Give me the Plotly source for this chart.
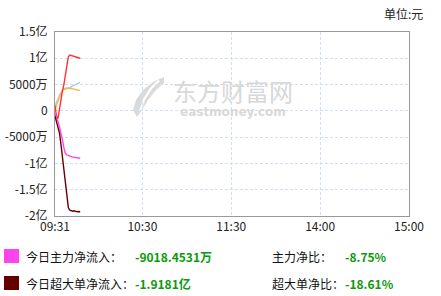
import plotly.graph_objects as go

# minutes since 09:31
minutes = list(range(18))
# values in 万元
xiaodan = [1000, 1700, 2300, 2900, 3400, 3900, 4200, 4300, 4350, 4400, 4400, 4600, 4800, 4900, 5000, 5100, 5300, 5400]
zhongdan = [200, 900, 1800, 2700, 3300, 3800, 4100, 4200, 4300, 4300, 4300, 4300, 4200, 4100, 4000, 4000, 3900, 3900]
dadan = [1000, -1000, -1500, 500, 2500, 3800, 5000, 6800, 8800, 10300, 10600, 10500, 10400, 10300, 10200, 10100, 10000, 10000]
zhuli = [-500, -1200, -2000, -3000, -4000, -5500, -7000, -8100, -8400, -8550, -8650, -8700, -8800, -8850, -8900, -8950, -9000, -9018]
chaoda = [-1000, -2000, -3200, -4200, -6300, -8700, -11100, -13600, -16000, -18400, -18900, -19000, -19100, -19000, -19100, -19200, -19150, -19181]

y_ticks = [15000, 10000, 5000, 0, -5000, -10000, -15000, -20000]
y_labels = ["1.5亿", "1亿", "5000万", "0", "-5000万", "-1亿", "-1.5亿", "-2亿"]
x_ticks = [0, 59, 119, 179, 239]
x_labels = ["09:31", "10:30", "11:30", "14:00", "15:00"]

font = "Noto Sans CJK SC"
W, H = 441, 296
L, R, T, B = 55, 409, 32, 216

def px(x):
    return (x - L) / (R - L)

def py(y):
    return (B - y) / (B - T)

fig = go.Figure()
for name, vals, color in [
    ("小单", xiaodan, "#a8ccf0"),
    ("中单", zhongdan, "#ffb545"),
    ("大单", dadan, "#ff3333"),
    ("主力", zhuli, "#ff44ee"),
    ("超大单", chaoda, "#660000"),
]:
    fig.add_trace(go.Scatter(x=minutes, y=vals, mode="lines", name=name,
                             line=dict(color=color, width=1.4), hoverinfo="skip"))

fig.update_layout(
    width=W, height=H,
    margin=dict(l=L, r=W - R, t=T, b=H - B),
    paper_bgcolor="white", plot_bgcolor="white",
    showlegend=False,
    font=dict(family=font, size=12, color="#222"),
    xaxis=dict(range=[0, 239], tickvals=x_ticks, ticktext=x_labels, automargin=False,
               showgrid=True, gridcolor="#cfe0ee", griddash="3px,2px", gridwidth=1,
               showline=True, linecolor="#999", linewidth=1, mirror=True,
               zeroline=False, ticks="", tickfont=dict(size=12, color="#222")),
    yaxis=dict(range=[-20000, 15000], tickvals=y_ticks, ticktext=y_labels, automargin=False,
               showgrid=True, gridcolor="#cfe0ee", griddash="3px,2px", gridwidth=1,
               showline=True, linecolor="#999", linewidth=1, mirror=True,
               zeroline=False, ticks="", ticklabelstandoff=4,
               tickfont=dict(size=12, color="#222")),
)

def note(x, y, text, size=12, color="#111", fam=font, xanchor="left"):
    return dict(x=px(x), y=py(y), xref="paper", yref="paper", text=text,
                xanchor=xanchor, yanchor="middle", showarrow=False,
                font=dict(size=size, color=color, family=fam))

ann = []
# watermark
ann.append(note(233, 90, "东方财富网", size=24, color="#d8d8d8", xanchor="center"))
ann.append(note(233, 112, "<b>eastmoney.com</b>", size=12, color="#d8d8d8",
                fam="DejaVu Sans", xanchor="center"))
# unit
ann.append(note(425, 13, "单位:元", color="#222", xanchor="right"))

rows = [
    (256, "今日主力净流入：", "-9018.4531万", "主力净比：", "-8.75%"),
    (283, "今日超大单净流入：", "-1.9181亿", "超大单净比：", "-18.61%"),
]
for yy, lab, val, lab2, val2 in rows:
    ann.append(note(24, yy, lab))
    ann.append(note(133, yy, "<b>" + val + "</b>", color="#0a9a0a"))
    ann.append(note(270, yy, lab2))
    ann.append(note(343, yy, "<b>" + val2 + "</b>", color="#0a9a0a"))
fig.update_layout(annotations=ann)

def path(points):
    return "M " + " L ".join(f"{px(a):.4f},{py(b):.4f}" for a, b in points) + " Z"

logo = [(164, 77), (153, 82), (143, 90), (136, 100), (133, 110), (137, 117),
        (142, 110), (148, 100), (156, 90), (164, 83)]
stripe = [(158, 80), (150, 88), (143, 99), (139, 111), (141, 111), (145, 100), (152, 89), (160, 81)]
shapes = [
    dict(type="rect", xref="paper", yref="paper", x0=px(4), x1=px(19), y0=py(263), y1=py(249),
         fillcolor="#ff44ee", line=dict(width=0)),
    dict(type="rect", xref="paper", yref="paper", x0=px(4), x1=px(19), y0=py(290), y1=py(276),
         fillcolor="#660000", line=dict(width=0)),
    dict(type="path", xref="paper", yref="paper", path=path(logo), fillcolor="#dadada",
         line=dict(width=0), layer="below"),
    dict(type="path", xref="paper", yref="paper", path=path(stripe), fillcolor="white",
         line=dict(width=0), layer="below"),
]
fig.update_layout(shapes=shapes)

fig.write_html("out.html")
